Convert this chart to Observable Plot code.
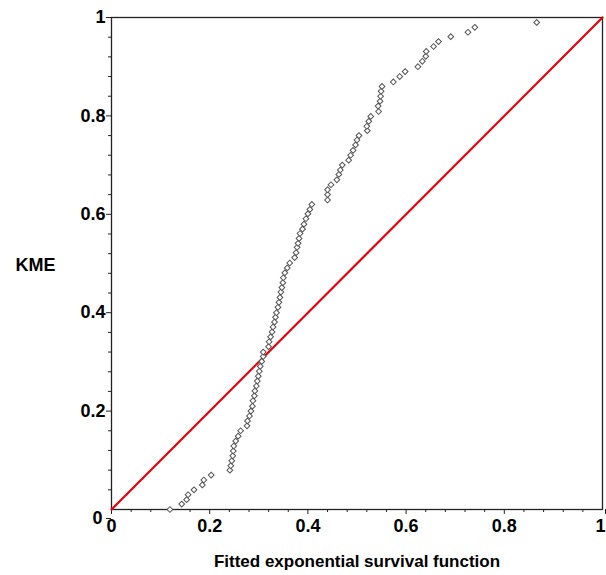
<!DOCTYPE html>
<html>
<head>
<meta charset="utf-8">
<script src="https://cdn.jsdelivr.net/npm/d3@7"></script>
<script src="https://cdn.jsdelivr.net/npm/@observablehq/plot@0.6"></script>
<style>
  html, body { margin: 0; padding: 0; background: #fff; }
  svg { display: block; }
</style>
</head>
<body>
<div id="chart"></div>
<script>
// Fitted exponential survival function (x) vs Kaplan-Meier estimate (y)
const fitted = [
  0.119, 0.143, 0.153, 0.156, 0.168, 0.185, 0.188, 0.203, 0.241, 0.243,
  0.245, 0.247, 0.248, 0.249, 0.253, 0.258, 0.263, 0.276, 0.277, 0.281,
  0.284, 0.287, 0.288, 0.291, 0.292, 0.295, 0.297, 0.299, 0.301, 0.303,
  0.306, 0.309, 0.309, 0.320, 0.321, 0.324, 0.327, 0.329, 0.332, 0.334,
  0.336, 0.339, 0.341, 0.343, 0.345, 0.347, 0.349, 0.350, 0.353, 0.358,
  0.363, 0.373, 0.376, 0.378, 0.380, 0.382, 0.384, 0.389, 0.392, 0.396,
  0.400, 0.404, 0.408, 0.440, 0.440, 0.440, 0.447, 0.459, 0.463, 0.466,
  0.470, 0.483, 0.487, 0.492, 0.497, 0.500, 0.504, 0.521, 0.520, 0.524,
  0.528, 0.544, 0.543, 0.547, 0.548, 0.549, 0.551, 0.574, 0.587, 0.598,
  0.624, 0.633, 0.640, 0.641, 0.656, 0.666, 0.691, 0.726, 0.740, 0.866
];
const kme = [
  0.000, 0.011, 0.020, 0.030, 0.040, 0.050, 0.060, 0.070, 0.080, 0.089,
  0.099, 0.109, 0.119, 0.129, 0.139, 0.149, 0.160, 0.170, 0.180, 0.190,
  0.200, 0.210, 0.221, 0.231, 0.241, 0.251, 0.261, 0.271, 0.281, 0.291,
  0.301, 0.311, 0.320, 0.331, 0.341, 0.351, 0.361, 0.371, 0.381, 0.391,
  0.400, 0.411, 0.421, 0.431, 0.442, 0.451, 0.461, 0.471, 0.481, 0.491,
  0.501, 0.512, 0.522, 0.533, 0.541, 0.551, 0.561, 0.570, 0.580, 0.591,
  0.601, 0.610, 0.620, 0.629, 0.640, 0.650, 0.660, 0.670, 0.681, 0.690,
  0.700, 0.710, 0.720, 0.730, 0.741, 0.751, 0.760, 0.770, 0.779, 0.789,
  0.799, 0.809, 0.820, 0.830, 0.840, 0.850, 0.860, 0.869, 0.880, 0.890,
  0.900, 0.911, 0.921, 0.931, 0.941, 0.951, 0.961, 0.970, 0.980, 0.990
];
const refX = [0, 1];
const refY = [0, 1];
const xMajorTicks = [0, 0.2, 0.4, 0.6, 0.8];
const xEndTick = [1];
const yMajorTicks = [0.2, 0.4, 0.6, 0.8, 1];
const yZeroTick = [0];
const minorTicks = [0.04, 0.08, 0.12, 0.16, 0.24, 0.28, 0.32, 0.36, 0.44, 0.48, 0.52, 0.56,
                    0.64, 0.68, 0.72, 0.76, 0.84, 0.88, 0.92, 0.96];
const xLabel = "Fitted exponential survival function";
const yLabel = "KME";

const points = fitted.map((x, i) => ({x, y: kme[i]}));
const ref = refX.map((x, i) => ({x, y: refY[i]}));
const fmt = d3.format("");
const blank = () => "";

const chart = Plot.plot({
  width: 606,
  height: 575,
  marginLeft: 111,
  marginRight: 4,
  marginTop: 17,
  marginBottom: 66,
  style: {fontFamily: "'Liberation Sans', Arial, sans-serif", fontWeight: "bold", fontSize: "18px", color: "#000", background: "#fff"},
  x: {domain: [0, 1]},
  y: {domain: [0, 1]},
  marks: [
    Plot.frame({stroke: "#222", strokeWidth: 1.3}),
    Plot.axisX({ticks: minorTicks, tickSize: 3, tickFormat: blank, label: null, stroke: "#222"}),
    Plot.axisY({ticks: minorTicks, tickSize: 3, tickFormat: blank, label: null, stroke: "#222"}),
    Plot.axisX({ticks: xMajorTicks, tickSize: 5, tickPadding: 5, tickFormat: fmt, label: null, stroke: "#222", fill: "#000", fontSize: 18, fontWeight: "bold"}),
    Plot.axisX({ticks: xEndTick, tickSize: 5, tickPadding: 5, tickFormat: fmt, label: null, stroke: "#222", fill: "#000", fontSize: 18, fontWeight: "bold", textAnchor: "end", dx: 3}),
    Plot.axisY({ticks: yMajorTicks, tickSize: 5, tickPadding: 1, tickFormat: fmt, label: null, stroke: "#222", fill: "#000", fontSize: 18, fontWeight: "bold"}),
    Plot.axisY({ticks: yZeroTick, tickSize: 5, tickPadding: 4, tickFormat: fmt, label: null, stroke: "#222", fill: "#000", fontSize: 18, fontWeight: "bold", dy: 9}),
    Plot.line(ref, {x: "x", y: "y", stroke: "#e8000b", strokeWidth: 2.2}),
    Plot.dot(points, {x: "x", y: "y", symbol: "square", rotate: 45, r: 2.3, stroke: "#555", strokeWidth: 1, fill: "#fff"}),
    Plot.text([xLabel], {frameAnchor: "bottom", dy: 57, text: d => d, fontSize: 17, fontWeight: "bold", fill: "#000"}),
    Plot.text([yLabel], {frameAnchor: "left", dx: -96, dy: 2, textAnchor: "start", text: d => d, fontSize: 18, fontWeight: "bold", fill: "#000", letterSpacing: "-1px"})
  ]
});
document.getElementById("chart").appendChild(chart);
</script>
</body>
</html>
